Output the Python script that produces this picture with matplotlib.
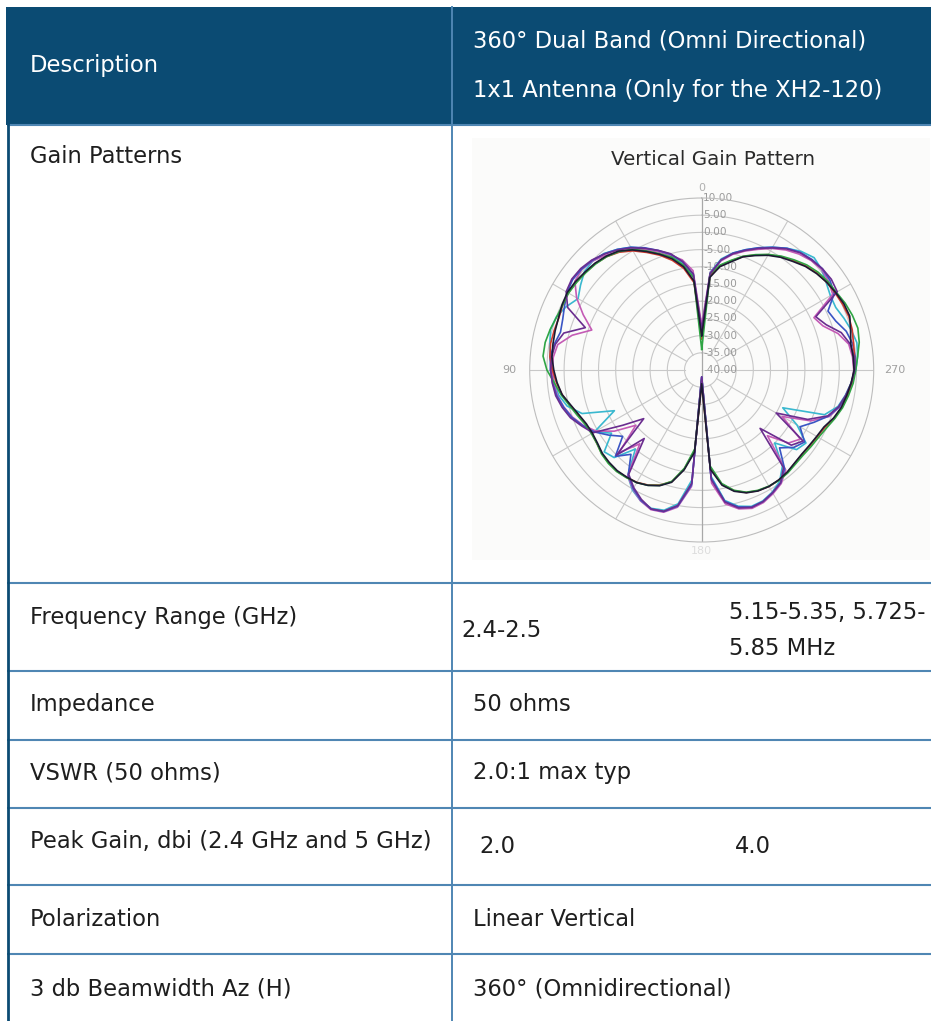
import numpy as np
import matplotlib
matplotlib.use("Agg")
import matplotlib.pyplot as plt
from matplotlib.patches import Rectangle

# ---------------- data ----------------
HEADER_LEFT = "Description"
HEADER_RIGHT = ["360° Dual Band (Omni Directional)", "1x1 Antenna (Only for the XH2-120)"]
ROW_LABELS = ["Gain Patterns", "Frequency Range (GHz)", "Impedance", "VSWR (50 ohms)",
              "Peak Gain, dbi (2.4 GHz and 5 GHz)", "Polarization", "3 db Beamwidth Az (H)"]
FREQ_24 = "2.4-2.5"
FREQ_5 = ["5.15-5.35, 5.725-", "5.85 MHz"]
IMPEDANCE = "50 ohms"
VSWR = "2.0:1 max typ"
PEAK_GAIN = ["2.0", "4.0"]
POLARIZATION = "Linear Vertical"
BEAMWIDTH = "360° (Omnidirectional)"

POLAR_TITLE = "Vertical Gain Pattern"
RING_DB = [10, 5, 0, -5, -10, -15, -20, -25, -30, -35, -40]
ANGLE_LABELS = {0: "0", 90: "90", 180: "180", 270: "270"}

# angles (deg, counter-clockwise from top) and gain (dB) for each measured trace
ANGLE_DEG = list(range(0, 360, 5))

black = [-30, -14, -9.5, -6.5, -4.2, -2, 0.3, 2.2, 3.2, 3.9, 4.3, 4.8, 5.1, 4.8, 4.3, 4.1, 3.9, 3.7,
         3.0, 2.2, 1.2, -0.6, -2, -3, -3.3, -3, -2.3, -2, -1.8, -2, -2.2, -3, -4.2, -6.2, -10.5, -16,
         -36, -11, -6, -3.5, -2, -1.2, -0.9, -1, -1.3, -1.8, -2, -1.8, -1.4, -0.8, 0.8, 2, 2.8, 3.6,
         4.3, 4.2, 4, 4.8, 5.8, 5.6, 5, 4.4, 3.6, 2.6, 1.2, 0, -1.5, -3.3, -5, -7.5, -9.5, -13]
green = [-34, -13, -9, -6, -4, -1.8, 0.5, 2, 3, 3.6, 4, 4.4, 4.7, 4.6, 4.9, 5.6, 6.2, 6.3,
         5, 3, 1.5, -0.2, -1.5, -2.6, -3, -2.8, -2, -1.6, -1.5, -1.8, -2.2, -3, -4.3, -6.5, -11, -17,
         -37, -12, -6.5, -3.8, -2.2, -1.4, -1, -0.8, -1, -1.4, -1.5, -1.2, -0.8, 0, 1.2, 2.4, 3.3, 4.2,
         4.8, 5.5, 6.5, 7, 6.6, 6, 5.2, 4.8, 4.2, 3.2, 1.8, 0.4, -1.2, -3, -4.8, -7, -9, -12]
red = [-31, -14.5, -10, -7, -4.5, -2.3, 0, 1.8, 3, 3.7, 4.1, 4.5, 4.8, 4.6, 4.2, 4.4, 4.6, 4.3,
       3.4, 2.4, 1.2, -0.4, -1.8, -2.8, -3.1, -2.8, -2.1, -1.8, -1.6, -1.9, -2.3, -3.1, -4.4, -6.4, -10.8, -16.5,
       -36, -11.5, -6.3, -3.7, -2.1, -1.3, -0.9, -0.9, -1.2, -1.7, -1.9, -1.6, -1.2, -0.5, 1, 2.2, 3, 3.8,
       4.4, 4.6, 4.8, 5.3, 5.5, 5.2, 4.8, 4.4, 3.8, 2.8, 1.5, 0.2, -1.3, -3.1, -4.9, -7.2, -9.3, -12.5]
purple = [-28, -12, -8, -5, -3, -1, 1, 2.6, 4, 5.2, 5.9, 6.1, 5.5, 3, -4, 1.5, 3.2, 3.8,
          3.9, 3.6, 3.1, 2, 0.6, -1.5, -3.5, -12, -18, -5, -14, -3, -0.5, 1.5, 3, 2.5, 0, -7,
          -38, -8, -1, 1.5, 2.5, 2.2, 1.2, 0, -3, -16, -6, -4, -15, -6, -1, 1.2, 2.5, 3.6,
          4.5, 4.5, 3.8, 2, -1.5, -3.4, 5.5, 6, 5.8, 5.2, 4.5, 3, 1, -1, -3, -5, -7.5, -12]
magenta = [-27, -11, -7.5, -5.5, -3.5, -1.5, 0.5, 2, 3.5, 4.8, 5.5, 5, 2, -2, -6, -1, 2.5, 3.3,
           3.5, 3.2, 2.6, 1.5, 0, -2, -4.5, -9, -15, -6, -12, -2.5, 0, 2, 3.2, 2.8, 0.5, -6,
           -38, -7, -0.5, 1.8, 2.8, 2.5, 1.5, 0.3, -2, -13, -7, -5, -13, -5, -0.5, 1.5, 2.8, 3.8,
           4.2, 4, 3.4, 1, -2.5, -4, 4, 5, 5.5, 5, 4, 2.6, 0.8, -1.3, -3.2, -5.2, -7.8, -11.5]
cyan = [-29, -12.5, -8.5, -5.5, -3.2, -1, 1.2, 2.8, 4.2, 4.8, 4.5, 3, 1.5, 3.5, 5, 5.5, 4.8, 4.2,
        3.6, 3, 2.2, 0.5, -3, -12, -4, -8, -3, -4, -10, -2.5, 0.3, 2, 2.8, 2.2, -0.5, -8,
        -38, -9, -1.5, 1, 2.2, 2, 1, -0.5, -3.5, -10, -4, -3, -8, -14, -2, 1, 2.4, 3.6,
        4.8, 5.5, 5.8, 5, 4, 3, 3.2, 4.2, 5.5, 6.2, 5, 3.2, 1.2, -0.8, -2.8, -4.8, -7.2, -11.5]
blue = [-30, -12, -8, -5.2, -3, -0.8, 1.2, 2.8, 4.1, 5, 5.6, 5.8, 5.2, 4, 3, 2.5, 3.5, 4.2,
        4, 3.5, 2.8, 1.6, 0.2, -1.8, -4, -7, -10, -4.5, -8, -2.8, -0.2, 1.8, 3, 2.6, 0.2, -6.5,
        -38, -8.5, -1.2, 1.2, 2.4, 2.2, 1.2, 0, -2.5, -8, -5, -3.5, -7, -4, -0.8, 1.4, 2.6, 3.8,
        4.6, 4.8, 4.5, 3.5, 1.5, 0.5, 4.5, 5.5, 5.8, 5.4, 4.6, 3.2, 1.2, -0.8, -2.8, -4.8, -7.5, -11.8]

TRACES = [("#3ab8cf", cyan), ("#c45bb5", magenta), ("#3a55c4", blue), ("#d23a2e", red),
          ("#2fa544", green), ("#6a2d8f", purple), ("#1b1b33", black)]

# ---------------- layout ----------------
W, H = 931, 1021
HEAD_BG = "#0b4b73"
LINE = "#4f86b3"
TXT = "#1e1e1e"
FS = 16.3
FONT = "DejaVu Sans"

fig = plt.figure(figsize=(W / 100, H / 100), dpi=100)
ax = fig.add_axes([0, 0, 1, 1])
ax.set_xlim(0, W)
ax.set_ylim(H, 0)
ax.axis("off")

# header
ax.add_patch(Rectangle((6, 7), W - 6, 118, facecolor=HEAD_BG, edgecolor="none", zorder=1))
# polar picture background
ax.add_patch(Rectangle((472, 138), 458, 422, facecolor="#fbfbfa", edgecolor="none", zorder=0))

row_lines = [125, 583, 671, 740, 808, 885, 954]
for y in row_lines:
    ax.plot([7, W], [y, y], color=LINE, lw=1.5, solid_capstyle="butt", zorder=2)
ax.plot([452, 452], [7, H], color=LINE, lw=1.4, zorder=2)
ax.plot([8, 8], [124, H], color=HEAD_BG, lw=2.0, zorder=3)

def t(x, y, s, color=TXT, size=FS):
    ax.text(x, y, s, color=color, fontsize=size, family=FONT, ha="left", va="baseline", zorder=4)

t(30, 72, HEADER_LEFT, color="white")
t(473, 48, HEADER_RIGHT[0], color="white")
t(473, 97, HEADER_RIGHT[1], color="white")

baselines = [163, 624, 711, 779, 848, 926, 995]
for lab, yb in zip(ROW_LABELS, baselines):
    t(30, yb, lab)

t(461, 637, FREQ_24)
t(729, 619, FREQ_5[0])
t(729, 655, FREQ_5[1])
t(473, 711, IMPEDANCE)
t(473, 779, VSWR)
t(479, 853, PEAK_GAIN[0])
t(735, 853, PEAK_GAIN[1])
t(473, 926, POLARIZATION)
t(473, 995, BEAMWIDTH)

ax.text(713, 165, POLAR_TITLE, color="#2a2a2a", fontsize=14.3, family=FONT,
        ha="center", va="baseline", zorder=4)

# ---------------- polar plot ----------------
cx, cy, R = 701.7, 370.0, 172.0
pax = fig.add_axes([(cx - R) / W, 1 - (cy + R) / H, 2 * R / W, 2 * R / H], projection="polar")
pax.set_theta_zero_location("N")
pax.set_theta_direction(1)
pax.set_ylim(min(RING_DB), max(RING_DB))
pax.patch.set_alpha(0)
pax.grid(False)
pax.set_xticks([])
pax.set_yticks([])
pax.spines["polar"].set_color("#bdbdbd")
pax.spines["polar"].set_linewidth(0.8)

ring_theta = np.linspace(0, 2 * np.pi, 361)
for r in RING_DB[1:-1]:
    pax.plot(ring_theta, np.full_like(ring_theta, r), color="#c8c8c8", lw=0.8, zorder=1)
for a in range(0, 360, 30):
    th = np.deg2rad(a)
    if a in (0, 180):
        pax.plot([th, th], [min(RING_DB), max(RING_DB)], color="#a8a8a8", lw=0.9, zorder=1)
    else:
        pax.plot([th, th], [-35, max(RING_DB)], color="#c8c8c8", lw=0.8, zorder=1)

for r in RING_DB:
    pax.annotate("-" + f"{r:.2f}".lstrip("-") if r < 0 else f"{r:.2f}", xy=(0, r),
                 xytext=(1, 0), textcoords="offset points", color="#9a9a9a", fontsize=7.6,
                 family=FONT, ha="left", va="center", annotation_clip=False, zorder=2)

label_r = {0: 13.0, 90: 15.8, 180: 12.5, 270: 16.2}
label_c = {0: "#b0b0b0", 90: "#a0a0a0", 180: "#dddddd", 270: "#a0a0a0"}
for a, s in ANGLE_LABELS.items():
    pax.text(np.deg2rad(a), label_r[a], s, color=label_c[a], fontsize=8, family=FONT,
             ha="center", va="center", clip_on=False)

theta = np.deg2rad(ANGLE_DEG + [360])
for col, vals in TRACES:
    pax.plot(theta, vals + [vals[0]], color=col, lw=1.2, zorder=3)

fig.savefig("out.png", dpi=100)
